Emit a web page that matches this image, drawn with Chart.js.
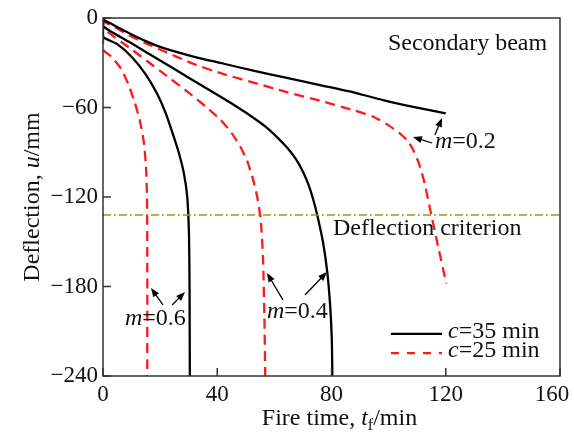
<!DOCTYPE html>
<html>
<head>
<meta charset="utf-8">
<title>Secondary beam deflection</title>
<script src="https://cdn.jsdelivr.net/npm/chart.js@4.4.1/dist/chart.umd.min.js"></script>
<style>
    html, body { margin: 0; padding: 0; background: #fff; }
    #wrap { width: 574px; height: 432px; }
</style>
</head>
<body>
<div id="wrap"><canvas id="deflChart" width="574" height="432"></canvas></div>
<script>
// Deflection vs fire time, secondary beam, for load ratio m and cover c
const X_TICKS = [0, 40, 80, 120, 160];
const Y_TICKS = [0, -60, -120, -180, -240];
const CRITERION = -132;

// c = 35 min (solid)
const t35m02 = [0, 0.5, 3, 9, 15, 21, 32, 42, 53, 64, 76, 88, 98, 106, 120];
const u35m02 = [0, -1.5, -4, -10, -15.5, -20, -26, -30.5, -35.5, -40, -45, -50, -55, -58.5, -64];
const t35m04 = [0, 0, 10, 20, 30, 40, 46, 52, 57, 61, 64.5, 67.5, 70, 72, 73.5, 75, 77, 78.5, 79.5, 80.1, 80.3];
const u35m04 = [0, -5.5, -17, -28.5, -40, -51.5, -58.5, -66, -73, -80, -87, -94.5, -103, -112, -121, -132, -150, -170, -192, -215, -240];
const t35m06 = [0, 0, 5, 10, 15, 19, 22, 24.5, 26.5, 28.3, 29.5, 30.1, 30.3, 30.4];
const u35m06 = [0, -12.5, -17.5, -26, -38, -51, -64, -78, -90, -104, -120, -145, -180, -240];

// c = 25 min (dashed)
const t25m02 = [0, 0.5, 4, 9, 15, 21, 32, 42, 53, 64, 76, 88, 95, 100, 104, 106.5, 108.5, 110.5, 112.5, 114.5, 117.3, 120.2];
const u25m02 = [0, -2.5, -6, -11.5, -17, -22, -31, -37.5, -43.5, -49.5, -55.5, -62, -66.5, -72, -77.5, -82, -88, -97, -110, -128, -153, -178];
const t25m04 = [0, 0, 10, 20, 30, 36, 41, 45, 48, 50.5, 52.5, 54, 55.2, 56, 56.5, 56.8];
const u25m04 = [0, -6.5, -21, -35.5, -50, -59.5, -68, -77, -86, -96, -108, -120, -135, -160, -200, -240];
const t25m06 = [0, 0, 3, 6.3, 9, 11, 12.8, 14.2, 15, 15.4, 15.5, 15.5];
const u25m06 = [0, -21, -26, -34, -45, -56, -68, -82, -98, -120, -160, -240];

const SERIF = '"Liberation Serif", "Times New Roman", serif';
const RED = '#ff1a1a';

function pts(ts, us) {
    return ts.map((t, i) => ({ x: t, y: us[i] }));
}

function curve(ts, us, dashed) {
    return {
        data: pts(ts, us),
        showLine: true,
        borderColor: dashed ? RED : '#000',
        borderWidth: 2.3,
        borderDash: dashed ? [10, 6] : [],
        pointRadius: 0,
        tension: 0.2,
        fill: false
    };
}

// draw a run of text pieces, some italic / subscript
function richText(ctx, parts, x, y, align, size) {
    size = size || 24;
    const fontOf = p => (p.it ? 'italic ' : '') + (p.sub ? Math.round(size * 0.68) : size) + 'px ' + SERIF;
    const widths = parts.map(p => {
        ctx.font = fontOf(p);
        return ctx.measureText(p.s).width;
    });
    const total = widths.reduce((a, b) => a + b, 0);
    let cx = align === 'center' ? x - total / 2 : align === 'right' ? x - total : x;
    ctx.textAlign = 'left';
    ctx.textBaseline = 'alphabetic';
    parts.forEach((p, i) => {
        ctx.font = fontOf(p);
        ctx.fillText(p.s, cx, y + (p.sub ? 5 : 0));
        cx += widths[i];
    });
}

function arrow(ctx, x0, y0, x1, y1) {
    const ang = Math.atan2(y1 - y0, x1 - x0);
    const hl = 9, hw = 3.5;
    ctx.beginPath();
    ctx.moveTo(x0, y0);
    ctx.lineTo(x1 - Math.cos(ang) * hl * 0.8, y1 - Math.sin(ang) * hl * 0.8);
    ctx.stroke();
    ctx.beginPath();
    ctx.moveTo(x1, y1);
    ctx.lineTo(x1 - Math.cos(ang) * hl - Math.sin(ang) * hw, y1 - Math.sin(ang) * hl + Math.cos(ang) * hw);
    ctx.lineTo(x1 - Math.cos(ang) * hl + Math.sin(ang) * hw, y1 - Math.sin(ang) * hl - Math.cos(ang) * hw);
    ctx.closePath();
    ctx.fill();
}

const decorations = {
    id: 'decorations',
    afterDraw(chart) {
        const ctx = chart.ctx;
        const a = chart.chartArea;
        const xs = chart.scales.x, ys = chart.scales.y;
        const X = v => xs.getPixelForValue(v);
        const Y = v => ys.getPixelForValue(v);
        ctx.save();

        // frame and inward ticks
        ctx.strokeStyle = '#333';
        ctx.lineWidth = 1.5;
        ctx.strokeRect(a.left, a.top, a.right - a.left, a.bottom - a.top);
        ctx.beginPath();
        X_TICKS.forEach(v => { ctx.moveTo(X(v), a.bottom); ctx.lineTo(X(v), a.bottom - 8); });
        Y_TICKS.forEach(v => { ctx.moveTo(a.left, Y(v)); ctx.lineTo(a.left + 8, Y(v)); });
        ctx.stroke();

        ctx.fillStyle = '#111';
        // axis titles
        richText(ctx, [{ s: 'Fire time, ' }, { s: 't', it: true }, { s: 'f', sub: true }, { s: '/min' }],
            (a.left + a.right) / 2 + 8, 425, 'center');
        ctx.save();
        ctx.translate(39, (a.top + a.bottom) / 2);
        ctx.rotate(-Math.PI / 2);
        richText(ctx, [{ s: 'Deflection, ' }, { s: 'u', it: true }, { s: '/mm' }], 0, 0, 'center');
        ctx.restore();

        // labels inside the plot
        richText(ctx, [{ s: 'Secondary beam' }], X(155.5), Y(-21.5), 'right');
        richText(ctx, [{ s: 'Deflection criterion' }], X(80.5), Y(-145.5), 'left');
        richText(ctx, [{ s: 'm', it: true }, { s: '=0.2' }], X(116.2), Y(-87.4), 'left');
        richText(ctx, [{ s: 'm', it: true }, { s: '=0.4' }], X(57.4), Y(-201.3), 'left');
        richText(ctx, [{ s: 'm', it: true }, { s: '=0.6' }], X(7.7), Y(-205.8), 'left');

        ctx.strokeStyle = '#000';
        ctx.fillStyle = '#000';
        ctx.lineWidth = 1.3;
        arrow(ctx, X(116.2), Y(-78.4), X(118.7), Y(-67));
        arrow(ctx, X(115.2), Y(-83.8), X(108.5), Y(-79.8));
        arrow(ctx, X(63), Y(-189), X(57.4), Y(-171));
        arrow(ctx, X(70.7), Y(-185.7), X(78.4), Y(-170.3));
        arrow(ctx, X(21), Y(-192.4), X(16.8), Y(-181));
        arrow(ctx, X(24.2), Y(-192.4), X(28.7), Y(-183.7));

        // legend
        ctx.lineWidth = 2.3;
        ctx.beginPath();
        ctx.moveTo(X(100.8), Y(-211.8));
        ctx.lineTo(X(118.7), Y(-211.8));
        ctx.stroke();
        ctx.strokeStyle = RED;
        ctx.setLineDash([8, 8]);
        ctx.beginPath();
        ctx.moveTo(X(100.8), Y(-224.6));
        ctx.lineTo(X(118.7), Y(-224.6));
        ctx.stroke();
        ctx.setLineDash([]);
        ctx.fillStyle = '#111';
        richText(ctx, [{ s: 'c', it: true }, { s: '=35 min' }], X(120.8), Y(-214.7), 'left');
        richText(ctx, [{ s: 'c', it: true }, { s: '=25 min' }], X(120.8), Y(-227.5), 'left');

        ctx.restore();
    }
};

const tickFont = { family: SERIF, size: 23 };

new Chart(document.getElementById('deflChart'), {
    type: 'scatter',
    data: {
        datasets: [
            {
                data: [{ x: 0, y: CRITERION }, { x: 160, y: CRITERION }],
                showLine: true,
                borderColor: '#9a9a10',
                borderWidth: 1.5,
                borderDash: [8, 3, 2, 3],
                pointRadius: 0
            },
            curve(t35m02, u35m02, false),
            curve(t35m04, u35m04, false),
            curve(t35m06, u35m06, false),
            curve(t25m02, u25m02, true),
            curve(t25m04, u25m04, true),
            curve(t25m06, u25m06, true)
        ]
    },
    options: {
        responsive: false,
        animation: false,
        devicePixelRatio: 1,
        layout: { padding: { top: 18, right: 14, left: 0, bottom: 0 } },
        plugins: { legend: { display: false }, tooltip: { enabled: false } },
        scales: {
            x: {
                type: 'linear',
                min: 0,
                max: 160,
                afterBuildTicks: s => { s.ticks = X_TICKS.map(v => ({ value: v })); },
                afterFit: s => { s.height = 56; s.paddingLeft = 0; s.paddingRight = 0; },
                ticks: {
                    font: tickFont,
                    color: '#111',
                    padding: 5,
                    maxRotation: 0,
                    // last label pulled in so it stays on the canvas
                    callback: v => (v === 160 ? v + '\u2002\u2009' : String(v))
                },
                grid: { display: false, drawTicks: false },
                border: { display: false }
            },
            y: {
                type: 'linear',
                min: -240,
                max: 0,
                afterBuildTicks: s => { s.ticks = Y_TICKS.map(v => ({ value: v })); },
                afterFit: s => { s.width = 103; s.paddingTop = 0; s.paddingBottom = 0; },
                ticks: {
                    font: tickFont,
                    color: '#111',
                    padding: 5,
                    callback: v => (v < 0 ? '\u2212' + (-v) : String(v))
                },
                grid: { display: false, drawTicks: false },
                border: { display: false }
            }
        }
    },
    plugins: [decorations]
});
</script>
</body>
</html>
